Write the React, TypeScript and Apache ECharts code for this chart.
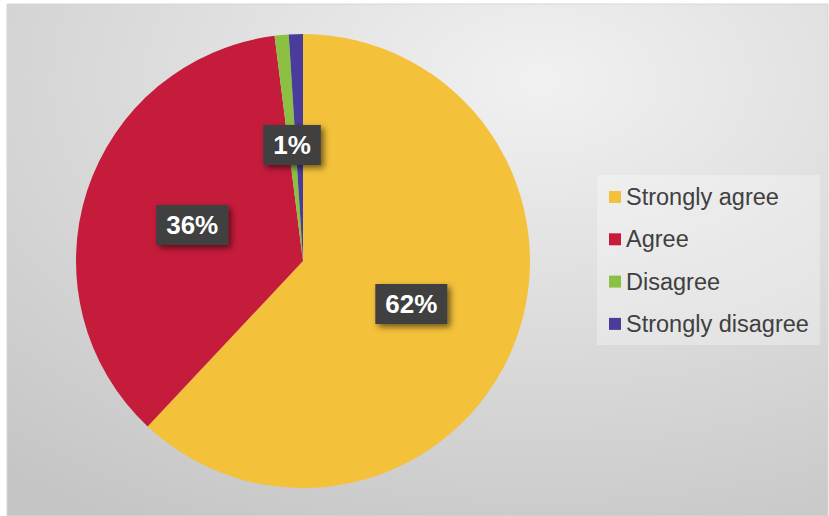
import React, { useEffect, useRef } from "react";
import * as echarts from "echarts";

const categories = ["Strongly agree", "Agree", "Disagree", "Strongly disagree"];
const values = [62, 36, 1, 1];
const colors = ["#F4C13A", "#C51C3B", "#8CC042", "#4A3C9A"];

export default function App() {
  const ref = useRef<HTMLDivElement>(null);
  useEffect(() => {
    if (!ref.current) return;
    const chart = echarts.init(ref.current, undefined, { renderer: "svg" });
    const font = "'Liberation Sans', Arial, sans-serif";
    chart.setOption({
      animation: false,
      graphic: [
        {
          type: "rect",
          z: -10,
          silent: true,
          shape: { x: 7, y: 4, width: 821, height: 512 },
          style: {
            fill: {
              type: "radial",
              x: 0.65,
              y: 0.15,
              r: 1,
              colorStops: [
                { offset: 0, color: "#f1f1f1" },
                { offset: 1, color: "#c5c5c5" },
              ],
            },
            stroke: "#d6d6d6",
            lineWidth: 1,
          },
        },
      ],
      legend: {
        orient: "vertical",
        left: 597,
        top: 175,
        padding: [10, 11, 9, 12],
        itemWidth: 12,
        itemHeight: 12,
        itemGap: 18.3,
        icon: "rect",
        backgroundColor: "rgba(255,255,255,0.3)",
        data: categories,
        textStyle: {
          fontSize: 23.5,
          lineHeight: 24,
          color: "#404040",
          fontFamily: font,
        },
      },
      series: [
        {
          type: "pie",
          center: [303, 261],
          radius: 227,
          startAngle: 90,
          clockwise: true,
          avoidLabelOverlap: false,
          color: colors,
          itemStyle: { borderWidth: 0 },
          emphasis: { disabled: true },
          label: {
            show: true,
            position: "inside",
            formatter: (p: any) => Math.round(p.percent) + "%",
            color: "#ffffff",
            fontSize: 26,
            fontWeight: "bold",
            fontFamily: font,
            lineHeight: 26,
            backgroundColor: "#414141",
            padding: [7, 10, 7, 10],
            shadowColor: "rgba(0,0,0,0.55)",
            shadowBlur: 6,
            shadowOffsetX: 3,
            shadowOffsetY: 3,
          },
          labelLine: { show: false },
          data: categories.map((c, i) => ({ name: c, value: values[i] })),
        },
      ],
    });
    return () => chart.dispose();
  }, []);
  return (
    <div
      ref={ref}
      style={{ position: "absolute", left: 0, top: 0, width: 829, height: 516 }}
    />
  );
}
